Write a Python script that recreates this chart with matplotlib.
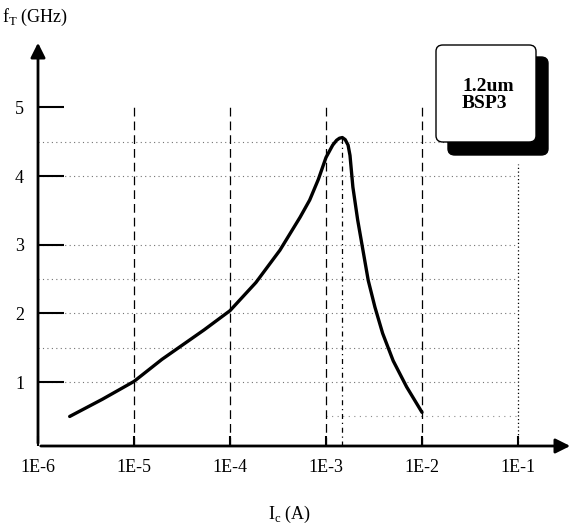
import matplotlib
matplotlib.use("Agg")
import matplotlib.pyplot as plt
from matplotlib.patches import FancyBboxPatch
import numpy as np

# curve: log10(Ic) and fT (GHz)
log_ic = [-5.67, -5.33, -5.00, -4.71, -4.27, -4.00, -3.73, -3.48, -3.27, -3.17,
          -3.08, -3.00, -2.93, -2.89, -2.86, -2.83, -2.80, -2.77, -2.75, -2.72,
          -2.67, -2.61, -2.56, -2.49, -2.41, -2.30, -2.16, -2.00]
ft_ghz = [0.50, 0.75, 1.01, 1.33, 1.76, 2.04, 2.45, 2.92, 3.40, 3.65,
          3.95, 4.27, 4.45, 4.52, 4.55, 4.56, 4.53, 4.45, 4.30, 3.84,
          3.36, 2.88, 2.48, 2.09, 1.71, 1.31, 0.93, 0.56]

x_ticks = [1e-6, 1e-5, 1e-4, 1e-3, 1e-2, 1e-1]
x_ticklabels = ["1E-6", "1E-5", "1E-4", "1E-3", "1E-2", "1E-1"]
y_ticks = [1, 2, 3, 4, 5]
dashed_x = [1e-5, 1e-4, 1e-3, 1e-2]
dotted_y = [1, 1.5, 2, 2.5, 3, 4, 4.5]
peak_log = -2.83
peak_ft = 4.56

W, H = 575, 526
fig = plt.figure(figsize=(W / 100, H / 100), dpi=100)
plt.rcParams["font.family"] = ["Liberation Serif", "DejaVu Serif"]

ax = fig.add_axes([38 / W, 1 - 446 / H, 535 / W, 406 / H])
ax.set_xscale("log")
ax.set_xlim(1e-6, 10 ** -0.427)
ax.set_ylim(0.07, 5.98)
for sp in ax.spines.values():
    sp.set_visible(False)

# grid
for yv in dotted_y:
    ax.plot([1e-6, 1e-1], [yv, yv], ls=(0, (1, 3)), color="0.45", lw=0.8, zorder=1)
ax.plot([1e-3, 1e-1], [0.5, 0.5], ls=(0, (1, 4)), color="0.55", lw=0.8, zorder=1)
for xv in dashed_x:
    ax.plot([xv, xv], [0.07, 5.05], ls=(0, (7, 4)), color="black", lw=0.9, zorder=2)
ax.plot([10 ** peak_log] * 2, [0.07, peak_ft], ls=(0, (4, 3, 1, 3)), color="black", lw=0.9, zorder=2)
ax.plot([1e-1, 1e-1], [0.07, 4.17], ls=(0, (1, 2)), color="black", lw=0.9, zorder=2)

# curve
ax.plot(10 ** np.array(log_ic), ft_ghz, color="black", lw=2.4, zorder=3,
        solid_capstyle="round", solid_joinstyle="round")

# axes with arrows
ax.annotate("", xy=(0, 1), xytext=(0, 0), xycoords="axes fraction",
            arrowprops=dict(arrowstyle="-|>", color="black", lw=2, mutation_scale=22))
ax.annotate("", xy=(1, 0), xytext=(0, 0), xycoords="axes fraction",
            arrowprops=dict(arrowstyle="-|>", color="black", lw=2, mutation_scale=22))

ax.set_xticks(x_ticks)
ax.set_xticklabels(x_ticklabels)
ax.xaxis.set_minor_locator(matplotlib.ticker.NullLocator())
ax.tick_params(axis="x", direction="in", length=7, width=1.5, pad=9, labelsize=13)
ax.set_yticks(y_ticks)
ax.set_yticklabels([str(v) for v in y_ticks])
ax.tick_params(axis="y", direction="in", length=19, width=1.5, pad=10, labelsize=13)

# axis labels
fig.text(2 / W, 1 - 17 / H, r"f$_\mathregular{T}$ (GHz)", fontsize=13, va="center", ha="left")
fig.text(290 / W, 1 - 514 / H, r"I$_\mathregular{c}$ (A)", fontsize=13, va="center", ha="center")

# label box with shadow
def px_box(x0, y0, x1, y1, fc, ec, z):
    return FancyBboxPatch((x0 / W, 1 - y1 / H), (x1 - x0) / W, (y1 - y0) / H,
                          boxstyle="round,pad=0,rounding_size=0.012",
                          transform=fig.transFigure, fc=fc, ec=ec, lw=1, zorder=z)

fig.patches.append(px_box(448, 57, 548, 155, "black", "black", 5))
fig.patches.append(px_box(436, 45, 536, 142, "white", "black", 6))
fig.text(462 / W, 1 - 95 / H, "1.2um\nBSP3", fontsize=14, fontweight="bold",
         va="center", ha="left", linespacing=1.05, zorder=7)

fig.savefig("out.png", dpi=100)
